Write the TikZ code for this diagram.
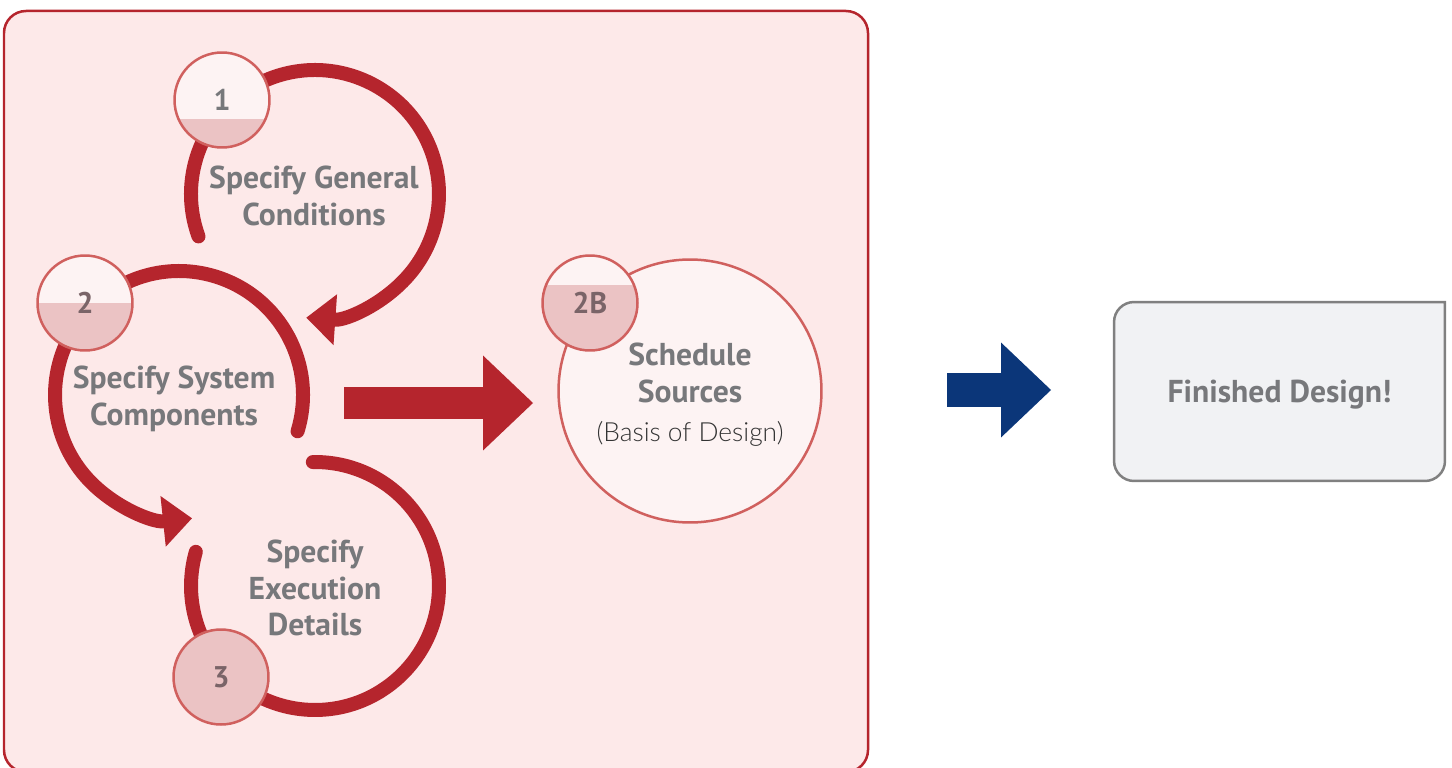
\documentclass[tikz,border=0pt]{standalone}
\usepackage{fontspec}
\setmainfont{PT Sans}
\newfontfamily\thinfont{Lato Light}
\usetikzlibrary{arrows.meta,backgrounds}
\definecolor{panelpink}{HTML}{FDE9E9}
\definecolor{loopred}{HTML}{B5252D}
\definecolor{badgeline}{HTML}{D0605E}
\definecolor{badgelight}{HTML}{FDF3F3}
\definecolor{badgedark}{HTML}{EBC3C4}
\definecolor{labelgray}{HTML}{77787B}
\definecolor{numgray}{HTML}{7A6468}
\definecolor{designblue}{HTML}{0B3679}
\definecolor{boxgray}{HTML}{F1F2F4}
\tikzset{
  looppath/.style={loopred, line width=0.28cm, line cap=round},
  looptip/.style={-{Triangle[length=0.58cm,width=1.02cm,line width=0pt]}},
  badge/.style={circle, draw=badgeline, line width=0.05cm, fill=badgelight,
    minimum size=1.9cm, inner sep=0pt, text=numgray,
    font=\bfseries\fontsize{17}{20}\selectfont,
    path picture={\fill[badgedark] (path picture bounding box.south west)
      rectangle ([yshift=#1]path picture bounding box.east);}},
  steptext/.style={align=center, text=labelgray,
    font=\bfseries\fontsize{18}{21}\selectfont},
  blockarrow/.style={line width=#1, -{Triangle[length=1cm,width=1.9cm,line width=0pt]}}
}

\begin{document}
\begin{tikzpicture}[x=0.02cm, y=0.02cm]
  \useasboundingbox (0,0) rectangle (1452,-767);
  % pink panel with the three steps
  \draw[loopred, line width=0.05cm, fill=panelpink, rounded corners=0.44cm]
    (4,-11) rectangle (868,-772);

  \coordinate (c1) at (315,-194);
  \coordinate (c2) at (179,-395);
  \coordinate (c3) at (315,-586);
  \draw[looppath, looptip] ([shift={(200:2.48cm)}]c1) arc[start angle=200, end angle=-94, radius=2.48cm];
  \draw[looppath, looptip] ([shift={(-17:2.48cm)}]c2) arc[start angle=-17, end angle=276, radius=2.48cm];
  \draw[looppath] ([shift={(91:2.48cm)}]c3) arc[start angle=91, end angle=-196, radius=2.48cm];

  \node[steptext] (genl) at (314,-196) {Specify General\\Conditions};
  \node[steptext] (syst) at (174,-399) {Specify System\\Components};
  \node[steptext] (exec) at (315,-588) {Specify\\Execution\\Details};

  \node[badge=-0.38cm, text=labelgray] (b1) at (222,-100) {1};
  \node[badge=0cm] (b2) at (85,-303) {2};
  \node[badge=2cm] (b3) at (221,-677) {3};

  % on to the schedule
  \coordinate (r0) at (344,-403);
  \coordinate (r1) at (533,-403);
  \draw[loopred, blockarrow=0.64cm] (r0) -- (r1);

  \node[circle, draw=badgeline, line width=0.05cm, fill=badgelight,
    minimum size=5.26cm, steptext] (sched) at (690,-391)
    {\\[-4pt]Schedule\\Sources\\[1pt]{\thinfont\mdseries\fontsize{15}{18}\selectfont\color{black!80}(Basis of Design)}};
  \node[badge=0.36cm] (b2b) at (590,-303) {2B};

  \coordinate (d0) at (947,-390);
  \coordinate (d1) at (1051,-390);
  \draw[designblue, blockarrow=0.68cm] (d0) -- (d1);

  \node[steptext, minimum width=6.62cm, minimum height=3.58cm, outer sep=0pt,
    text depth=0pt] (finish) at (1279.5,-391.5) {Finished Design!};
  \begin{scope}[on background layer]
    \draw[draw=black!50, line width=0.05cm, fill=boxgray]
      (finish.north east) -- ([yshift=0.4cm]finish.south east)
      arc[start angle=0, end angle=-90, radius=0.4cm]
      -- ([xshift=0.4cm]finish.south west)
      arc[start angle=270, end angle=180, radius=0.4cm]
      -- ([yshift=-0.4cm]finish.north west)
      arc[start angle=180, end angle=90, radius=0.4cm] -- cycle;
  \end{scope}
\end{tikzpicture}
\end{document}
